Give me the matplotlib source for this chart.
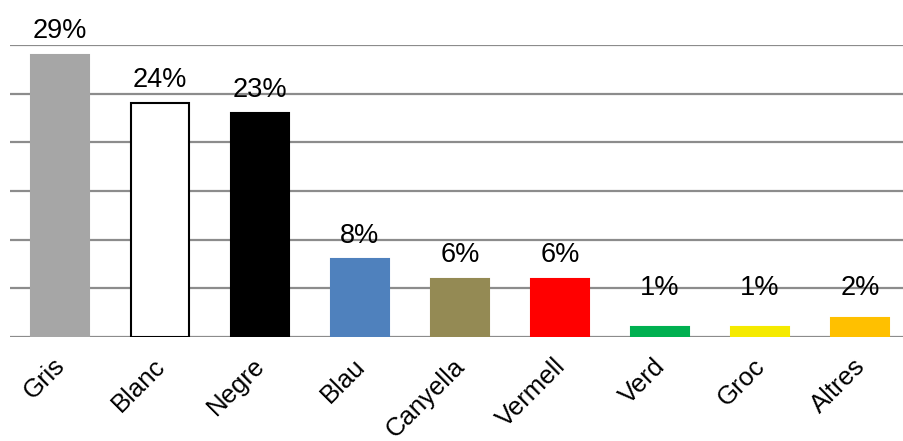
import matplotlib
matplotlib.use('Agg')
import matplotlib.pyplot as plt
import matplotlib.transforms as mtransforms
import numpy as np

# Colors of cars (percentages)
categories = ["Gris", "Blanc", "Negre", "Blau", "Canyella", "Vermell", "Verd", "Groc", "Altres"]
values = [29, 24, 23, 8, 6, 6, 1, 1, 2]
bar_colors = ["#a6a6a6", "#ffffff", "#000000", "#4f81bd", "#948a54", "#ff0000", "#00b050", "#f5ea00", "#ffc000"]

plt.rcParams['font.family'] = ['Liberation Sans', 'DejaVu Sans']

fig = plt.figure(figsize=(9.04, 4.41), dpi=100)
ax = fig.add_axes([10 / 904, 1 - 337 / 441, 900 / 904, (337 - 45) / 441])

x = np.arange(len(categories))
edges = ["#000000" if c == "#ffffff" else c for c in bar_colors]
ax.bar(x, values, width=0.58, color=bar_colors, edgecolor=edges, linewidth=1.5, zorder=3)

# gridlines
for g in range(0, 31, 5):
    ax.axhline(g, color="#8c8c8c", linewidth=1.6, zorder=1)

# value labels (small bars get a minimum label height)
for xi, v in zip(x, values):
    ax.text(xi, max(v, 2.6) + 2.4, f"{v}%", ha="center", va="center", fontsize=19.5, zorder=4)

ax.set_xlim(-0.5, len(categories) - 0.5)
ax.set_ylim(0, 30)
ax.set_yticks([])
ax.set_xticks(x)
ax.set_xticklabels(categories, rotation=45, ha="right", va="top", rotation_mode="anchor", fontsize=18.5)
ax.tick_params(axis="x", length=0, pad=12)
# nudge tick labels a bit to the left
offset = mtransforms.ScaledTranslation(-7 / 100, 0, fig.dpi_scale_trans)
for lbl in ax.get_xticklabels():
    lbl.set_transform(lbl.get_transform() + offset)
for s in ax.spines.values():
    s.set_visible(False)

fig.savefig("out.png", dpi=100)
